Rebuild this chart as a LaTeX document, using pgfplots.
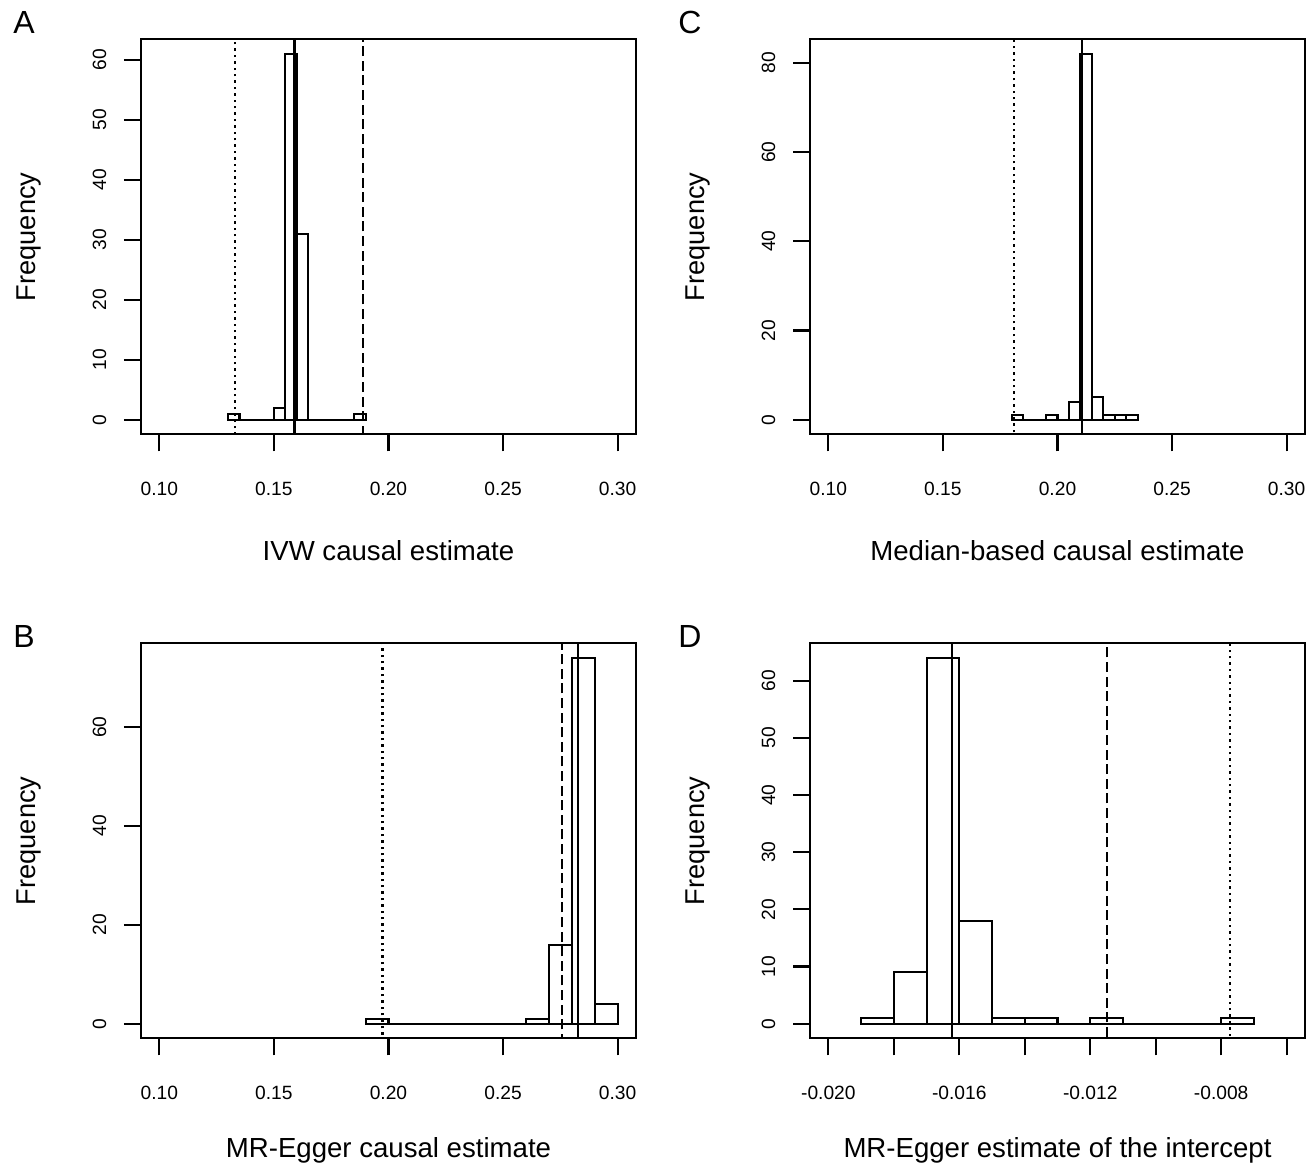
\documentclass[border=0pt]{standalone}
\usepackage{fontspec}
\setmainfont{Liberation Sans}
\usepackage{pgfplots}
\pgfplotsset{compat=1.18}

% one pixel of the reference = 0.5pt
\pgfplotsset{
  rhist/.style={
    scale only axis,
    width=247.5pt, height=197.5pt,
    anchor=south west,
    axis line style={line width=1.05pt},
    tick align=outside, tick pos=left,
    major tick length=8.5pt,
    tick style={black, line width=1.05pt},
    minor tick num=0,
    scaled x ticks=false, scaled y ticks=false,
    /pgf/number format/assume math mode=true,
    xticklabel style={font=\fontsize{9.6}{11}\selectfont, anchor=north, inner sep=0pt, yshift=-15pt},
    yticklabel style={font=\fontsize{9.6}{11}\selectfont, xshift=-8.6pt, rotate=90, anchor=south, inner sep=0pt},
    every axis x label/.style={at={(axis description cs:0.5,-0.319)}, anchor=base,
      font=\fontsize{13.8}{16}\selectfont},
    every axis y label/.style={at={(axis description cs:-0.214,0.5)}, rotate=90, anchor=base,
      font=\fontsize{13.6}{16}\selectfont},
    ylabel={Frequency},
  },
  lowrow/.style={every axis x label/.append style={at={(axis description cs:0.5,-0.302)}}},
  bars/.style={ybar interval, draw=black, fill=none, line width=1.05pt},
  vsolid/.style={black, line width=1.05pt},
  vdash/.style={black, line width=1.05pt, dash pattern=on 5pt off 2.3pt},
  vdot/.style={black, line width=1.1pt, dash pattern=on 1.2pt off 2pt},
}

\begin{document}
\begin{tikzpicture}
\useasboundingbox (0,0) rectangle (654pt,-585.5pt);

% ---------------- A: IVW
\begin{axis}[rhist, at={(70.5pt,-217.15pt)},
  xmin=0.092, xmax=0.308, ymin=-2.44, ymax=63.44,
  xtick={0.10,0.15,0.20,0.25,0.30},
  xticklabels={0.10,0.15,0.20,0.25,0.30},
  ytick={0,10,20,30,40,50,60},
  xlabel={IVW causal estimate}]
\addplot[bars] coordinates {
  (0.130,1) (0.135,0) (0.140,0) (0.145,0) (0.150,2) (0.155,61) (0.160,31)
  (0.165,0) (0.170,0) (0.175,0) (0.180,0) (0.185,1) (0.190,0)};
\addplot[vsolid] coordinates {(0.159,-10) (0.159,100)};
\addplot[vdot] coordinates {(0.133,-10) (0.133,100)};
\addplot[vdash] coordinates {(0.1887,-10) (0.1887,100)};
\end{axis}

% ---------------- C: median
\begin{axis}[rhist, at={(405pt,-217.15pt)},
  xmin=0.092, xmax=0.308, ymin=-3.28, ymax=85.28,
  xtick={0.10,0.15,0.20,0.25,0.30},
  xticklabels={0.10,0.15,0.20,0.25,0.30},
  ytick={0,20,40,60,80},
  xlabel={Median-based causal estimate}]
\addplot[bars] coordinates {
  (0.180,1) (0.185,0) (0.190,0) (0.195,1) (0.200,0) (0.205,4) (0.210,82)
  (0.215,5) (0.220,1) (0.225,1) (0.230,1) (0.235,0)};
\addplot[vsolid] coordinates {(0.2107,-10) (0.2107,100)};
\addplot[vdot] coordinates {(0.1809,-10) (0.1809,100)};
\end{axis}

% ---------------- B: MR-Egger slope
\begin{axis}[rhist, lowrow, at={(70.5pt,-519.15pt)},
  xmin=0.092, xmax=0.308, ymin=-2.96, ymax=76.96,
  xtick={0.10,0.15,0.20,0.25,0.30},
  xticklabels={0.10,0.15,0.20,0.25,0.30},
  ytick={0,20,40,60},
  xlabel={MR-Egger causal estimate}]
\addplot[bars] coordinates {
  (0.19,1) (0.20,0) (0.21,0) (0.22,0) (0.23,0) (0.24,0) (0.25,0)
  (0.26,1) (0.27,16) (0.28,74) (0.29,4) (0.30,0)};
\addplot[vsolid] coordinates {(0.2825,-10) (0.2825,100)};
\addplot[vdot] coordinates {(0.1974,-10) (0.1974,100)};
\addplot[vdash] coordinates {(0.2757,-10) (0.2757,100)};
\end{axis}

% ---------------- D: MR-Egger intercept
\begin{axis}[rhist, lowrow, at={(405pt,-519.15pt)},
  xmin=-0.02056, xmax=-0.00544, ymin=-2.56, ymax=66.56,
  xtick={-0.020,-0.018,-0.016,-0.014,-0.012,-0.010,-0.008,-0.006},
  xticklabels={{-0.020},{},{-0.016},{},{-0.012},{},{-0.008},{}},
  ytick={0,10,20,30,40,50,60},
  xlabel={MR-Egger estimate of the intercept}]
\addplot[bars] coordinates {
  (-0.019,1) (-0.018,9) (-0.017,64) (-0.016,18) (-0.015,1) (-0.014,1)
  (-0.013,0) (-0.012,1) (-0.011,0) (-0.010,0) (-0.009,0) (-0.008,1) (-0.007,0)};
\addplot[vsolid] coordinates {(-0.01623,-10) (-0.01623,100)};
\addplot[vdash] coordinates {(-0.01149,-10) (-0.01149,100)};
\addplot[vdot] coordinates {(-0.00772,-10) (-0.00772,100)};
\end{axis}

\node[font=\fontsize{16}{18}\selectfont] at (12pt,-11pt) {A};
\node[font=\fontsize{16}{18}\selectfont] at (345pt,-11pt) {C};
\node[font=\fontsize{16}{18}\selectfont] at (12pt,-318pt) {B};
\node[font=\fontsize{16}{18}\selectfont] at (345pt,-318pt) {D};
\end{tikzpicture}
\end{document}
